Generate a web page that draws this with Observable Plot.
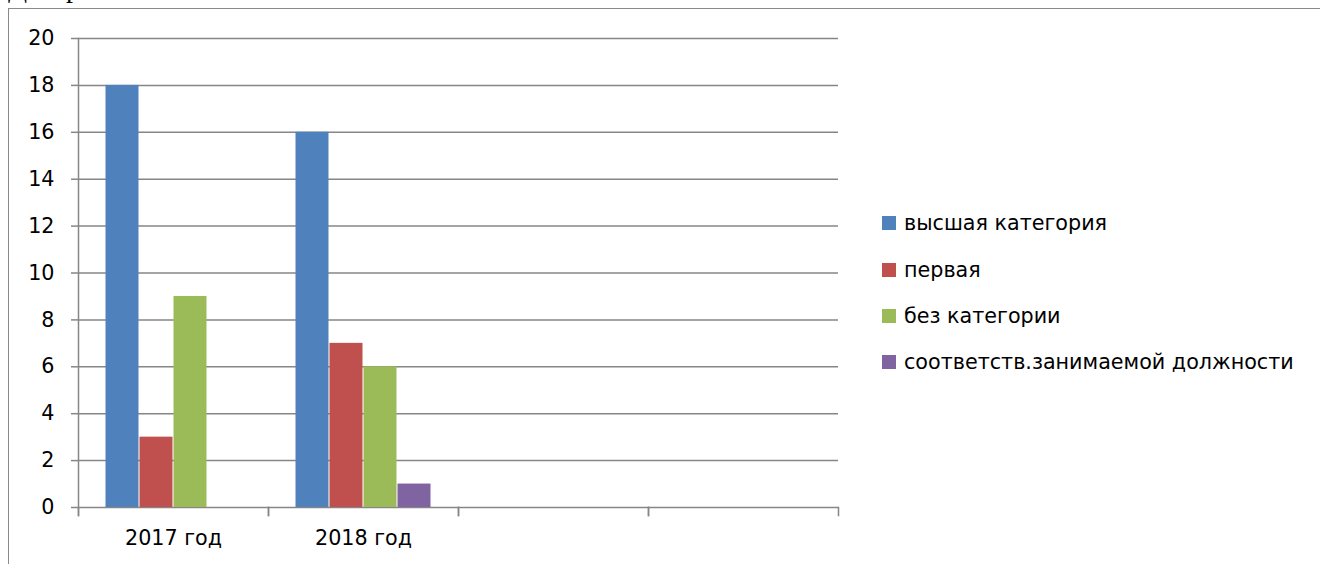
<!DOCTYPE html>
<html>
<head>
<meta charset="utf-8">
<script src="https://cdn.jsdelivr.net/npm/d3@7"></script>
<script src="https://cdn.jsdelivr.net/npm/@observablehq/plot@0.6"></script>
<style>
  html, body { margin: 0; padding: 0; background: #fff; }
  body { width: 1320px; height: 564px; position: relative; overflow: hidden; font-family: "DejaVu Sans", sans-serif; }
  #title { position: absolute; left: 8px; top: -28px; font-family: "Liberation Serif", serif; font-size: 28px; line-height: 32px; color: #000; }
  #box { position: absolute; left: 8px; top: 8px; width: 1330px; height: 600px; border: 1.5px solid #8a8a8a; box-sizing: border-box; background: #fff; }
  #chart { position: absolute; left: 0; top: 0; }
  #legend { position: absolute; left: 882px; top: 200px; font-family: "DejaVu Sans", sans-serif; font-size: 20.7px; color: #000; }
  .item { display: flex; align-items: center; height: 46.4px; }
  .sw { width: 14px; height: 14px; margin-right: 8px; }
</style>
</head>
<body>
<div id="title">Диаграмма</div>
<div id="box"></div>
<div id="chart"></div>
<div id="legend"></div>
<script>
const categories = ["2017 год", "2018 год", " ", "  "];
const seriesNames = ["высшая категория", "первая", "без категории", "соответств.занимаемой должности"];
const seriesColors = ["#4F81BD", "#C0504D", "#9BBB59", "#8064A2"];
const values2017 = [18, 3, 9, 0];
const values2018 = [16, 7, 6, 1];
const yTicks = [0, 2, 4, 6, 8, 10, 12, 14, 16, 18, 20];

const rows = [];
[values2017, values2018].forEach((vals, i) => {
  vals.forEach((v, j) => rows.push({cat: categories[i], series: seriesNames[j], value: v}));
});
const gridRows = categories.flatMap(c => yTicks.map(t => ({cat: c, tick: t})));

const grid = "#868686";
const plot = Plot.plot({
  width: 1320,
  height: 564,
  marginLeft: 77,
  marginRight: 481,
  marginTop: 38,
  marginBottom: 57,
  style: {fontFamily: "'DejaVu Sans', sans-serif", fontSize: "20.7px", color: "#000", background: "transparent"},
  fx: {domain: categories, padding: 0, label: null},
  x: {domain: seriesNames, paddingInner: 0, paddingOuter: 0.79, axis: null},
  y: {domain: [0, 20], label: null},
  color: {domain: seriesNames, range: seriesColors},
  marks: [
    Plot.ruleY(gridRows, {fx: "cat", y: "tick", stroke: grid, strokeWidth: 1.5}),
    Plot.frame({anchor: "left", facetAnchor: "left", stroke: grid, strokeWidth: 1.5, insetBottom: -8}),
    Plot.frame({anchor: "left", stroke: grid, strokeWidth: 1.5, insetTop: 469, insetBottom: -8}),
    Plot.frame({anchor: "right", stroke: grid, strokeWidth: 1.5, insetTop: 469, insetBottom: -8}),
    Plot.barY(rows, {fx: "cat", x: "series", y: "value", fill: "series", insetLeft: 0.5, insetRight: 0.5}),
    Plot.axisY({ticks: yTicks, tickSize: 7, tickPadding: 17, stroke: grid, strokeWidth: 1.5, label: null, fontSize: 20.7}),
    Plot.axisFx({anchor: "bottom", tickSize: 0, tickPadding: 23, label: null, fontSize: 20.7})
  ]
});
document.getElementById("chart").appendChild(plot);

const legend = document.getElementById("legend");
seriesNames.forEach((name, i) => {
  const d = document.createElement("div");
  d.className = "item";
  d.innerHTML = `<span class="sw" style="background:${seriesColors[i]}"></span><span>${name}</span>`;
  legend.appendChild(d);
});
</script>
</body>
</html>
